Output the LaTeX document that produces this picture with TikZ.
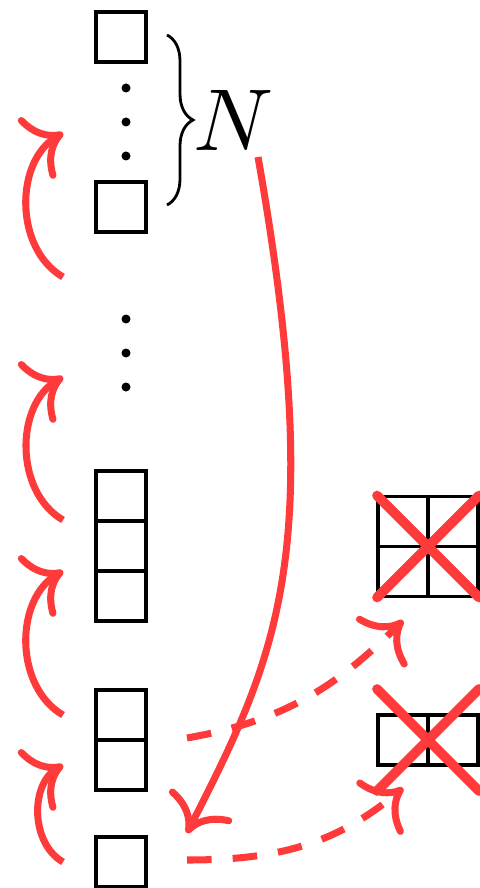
\documentclass[tikz,border=0pt]{standalone}
\usepackage{tikz}
\usetikzlibrary{positioning,calc,arrows.meta,decorations.pathreplacing}
\definecolor{hopred}{RGB}{255,58,58}
\tikzset{
  cell/.style={draw, line width=2pt, minimum size=1cm, inner sep=0pt, outer sep=0pt},
  hop/.style={draw=hopred, line width=4pt, -{Computer Modern Rightarrow[length=19pt,width=40pt]}},
  hopdash/.style={hop, dash pattern=on 14pt off 12pt},
  strike/.style={draw=hopred, line width=5.5pt, line cap=round},
}

\begin{document}
\begin{tikzpicture}
        \useasboundingbox (0,0) rectangle (9.58,-17.76);

        % left column of blocks
        \node[cell] (t1) at (2.42,-0.74) {};
        \node[cell] (t2) at (2.42,-4.14) {};
        \node[cell] (a1) at (2.42,-9.92) {};
        \node[cell, below=0pt of a1] (a2) {};
        \node[cell, below=0pt of a2] (a3) {};
        \node[cell] (b1) at (2.42,-14.3) {};
        \node[cell, below=0pt of b1] (b2) {};
        \node[cell] (c1) at (2.42,-17.24) {};

        % dots
        \foreach \y in {-1.76,-2.44,-3.12,-6.38,-7.06,-7.74}
            \fill (2.52,\y) circle (0.09);

        % brace with N
        \draw[decorate, decoration={brace, amplitude=0.52cm}, line width=1.6pt] (3.34,-0.7) -- (3.34,-4.1);
        \node[scale=5, inner sep=0pt] (N) at (4.68,-2.4) {$N$};

        % removed blocks on the right
        \node[cell] (p1) at (8.06,-10.43) {};
        \node[cell, right=0pt of p1] (p2) {};
        \node[cell, below=0pt of p1] (p3) {};
        \node[cell, right=0pt of p3] (p4) {};
        \node[cell] (q1) at (8.06,-14.8) {};
        \node[cell, right=0pt of q1] (q2) {};

        \draw[strike] ($(p1.south east)+(-1.02,1.02)$) -- ($(p1.south east)+(1.02,-1.02)$);
        \draw[strike] ($(p1.south east)+(-1.02,-1.02)$) -- ($(p1.south east)+(1.02,1.02)$);
        \draw[strike] ($(q1.east)+(-1.02,1.02)$) -- ($(q1.east)+(1.02,-1.02)$);
        \draw[strike] ($(q1.east)+(-1.02,-1.02)$) -- ($(q1.east)+(1.02,1.02)$);

        % ends of the arrows
        \coordinate (L1s) at (1.26,-5.54);
        \coordinate (L1e) at (1.26,-2.66);
        \coordinate (L2s) at (1.26,-10.4);
        \coordinate (L2e) at (1.26,-7.54);
        \coordinate (L3s) at ($(b1.west)+(-0.66,0)$);
        \coordinate (L3e) at ($(a2.south west)+(-0.66,0)$);
        \coordinate (L4s) at ($(c1.west)+(-0.66,0)$);
        \coordinate (L4e) at ($(b2.west)+(-0.66,0)$);
        \coordinate (Nfoot) at (5.16,-3.14);
        \coordinate (Nend) at ($(c1.north east)+(0.82,0.08)$);
        \coordinate (D1s) at ($(b1.south east)+(0.82,0.04)$);
        \coordinate (D1e) at ($(p3.south)+(0,-0.48)$);
        \coordinate (D2s) at ($(c1.east)+(0.82,0.04)$);
        \coordinate (D2e) at ($(q1.south)+(0,-0.46)$);

        % arrows
        \draw[hop] (L1s) to[bend left=60] (L1e);
        \draw[hop] (L2s) to[bend left=60] (L2e);
        \draw[hop] (L3s) to[bend left=60] (L3e);
        \draw[hop] (L4s) to[bend left=60] (L4e);

        \draw[hopdash] (D1s) to[out=10, in=-135] (D1e);
        \draw[hopdash] (D2s) to[out=0, in=-140] (D2e);

        \draw[hop] (Nfoot) .. controls +(-80:8) and +(63:4) .. (Nend);

\end{tikzpicture}
\end{document}
